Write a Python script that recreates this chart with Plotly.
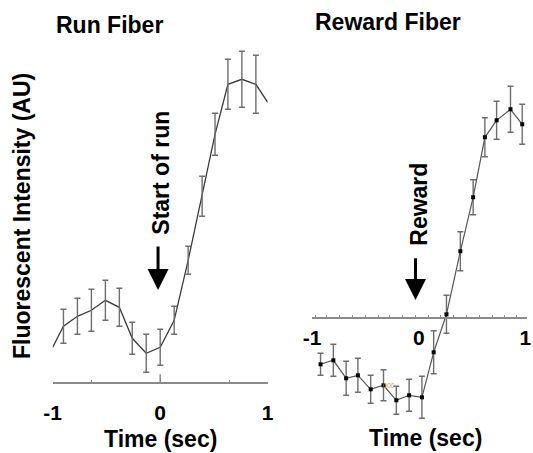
import plotly.graph_objects as go

# ---------------- data ----------------
run_t = [-1.0, -0.90, -0.77, -0.64, -0.51, -0.38, -0.26, -0.13, 0.0, 0.13, 0.26, 0.39, 0.51, 0.63, 0.76, 0.89, 1.0]
run_y = [0.35, 0.56, 0.66, 0.72, 0.82, 0.75, 0.44, 0.29, 0.35, 0.62, 1.22, 1.86, 2.48, 2.98, 3.03, 2.98, 2.80]
run_err = [0.17, 0.18, 0.21, 0.20, 0.19, 0.16, 0.19, 0.18, 0.14, 0.14, 0.20, 0.21, 0.25, 0.28, 0.29]  # inner points

rew_t = [-0.92, -0.80, -0.68, -0.57, -0.45, -0.33, -0.21, -0.09, 0.03, 0.14, 0.26, 0.39, 0.51, 0.62, 0.73, 0.86, 0.97]
rew_y = [-0.46, -0.42, -0.60, -0.57, -0.71, -0.67, -0.82, -0.77, -0.79, -0.34, 0.04, 0.67, 1.21, 1.81, 1.98, 2.09, 1.94]
rew_err = [0.11, 0.16, 0.17, 0.17, 0.14, 0.155, 0.14, 0.16, 0.21, 0.215, 0.19, 0.195, 0.175, 0.195, 0.19, 0.23, 0.20]

tick_vals = [-1, 0, 1]
tick_text = ["-1", "0", "1"]
run_minor_ticks = [-0.64, 0.0, 0.64]
rew_minor_ticks = [-0.97, -0.86, -0.74, -0.62, -0.50, -0.38, -0.27, -0.15, -0.03,
                   0.09, 0.20, 0.33, 0.45, 0.57, 0.69, 0.80, 0.92]

W, H = 533, 453
FONT = "Liberation Sans, Arial, Helvetica, sans-serif"
AXC = "#8a8a8a"
ERRC = "#6e6e6e"


def px(xp):
    return xp / W


def py(yp):
    return 1 - yp / H


fig = go.Figure()

# Run fiber
fig.add_trace(go.Scatter(x=run_t, y=run_y, mode="lines",
                         line=dict(color="#3a3a3a", width=1.3),
                         xaxis="x", yaxis="y", hoverinfo="skip"))
fig.add_trace(go.Scatter(x=run_t[1:-1], y=run_y[1:-1], mode="markers",
                         marker=dict(size=1, color="rgba(0,0,0,0)"),
                         error_y=dict(type="data", array=run_err, visible=True,
                                      color=ERRC, thickness=1.4, width=3),
                         xaxis="x", yaxis="y", hoverinfo="skip"))

# Reward fiber
fig.add_trace(go.Scatter(x=rew_t, y=rew_y, mode="lines+markers",
                         line=dict(color="#555555", width=1.2),
                         marker=dict(symbol="square", size=4, color="black"),
                         error_y=dict(type="data", array=rew_err, visible=True,
                                      color=ERRC, thickness=1.4, width=3),
                         xaxis="x2", yaxis="y2", hoverinfo="skip"))

tickfont = dict(family=FONT, size=21, color="black", weight="bold")

fig.update_layout(
    width=W, height=H,
    margin=dict(l=0, r=0, t=0, b=0, pad=0, autoexpand=False),
    paper_bgcolor="white", plot_bgcolor="white",
    showlegend=False,
    xaxis=dict(domain=[px(52.7), px(267.7)], range=[-1, 1], anchor="y",
               automargin=False,
               showline=True, linecolor=AXC, linewidth=1.5,
               showgrid=False, zeroline=False,
               tickmode="array", tickvals=tick_vals, ticktext=tick_text,
               ticks="", tickfont=tickfont, ticklabelstandoff=11,
               minor=dict(tickmode="array", tickvals=run_minor_ticks,
                          ticks="inside", ticklen=3, tickcolor=AXC, tickwidth=1.3,
                          showgrid=False)),
    yaxis=dict(domain=[py(382.3), py(20)], range=[0, 3.623], anchor="x",
               automargin=False, visible=False),
    xaxis2=dict(domain=[px(312.0), px(526.5)], range=[-1.0, 1.01], anchor="free",
                position=py(318.3), automargin=False,
                showline=True, linecolor=AXC, linewidth=1.5,
                showgrid=False, zeroline=False,
                tickmode="array", tickvals=tick_vals, ticktext=tick_text,
                ticks="", tickfont=tickfont, ticklabelstandoff=1,
                minor=dict(tickmode="array", tickvals=rew_minor_ticks,
                           ticks="inside", ticklen=3, tickcolor=AXC, tickwidth=1.2,
                           showgrid=False)),
    yaxis2=dict(domain=[py(430), py(20)], range=[-1.117, 2.983], anchor="x2",
                automargin=False, visible=False),
)

# taller centre tick on the run axis
fig.add_shape(type="line", xref="x", yref="y", x0=0, x1=0, y0=0, y1=0.08,
              line=dict(color=AXC, width=1.5))

big = dict(family=FONT, size=23, color="black", weight="bold")

ann = [
    dict(text="Run Fiber", xref="paper", yref="paper", x=px(109), y=py(25.5)),
    dict(text="Reward Fiber", xref="paper", yref="paper", x=px(387.5), y=py(22)),
    dict(text="Fluorescent Intensity (AU)", xref="paper", yref="paper",
         x=px(22), y=py(216), textangle=-90),
    dict(text="Time (sec)", xref="paper", yref="paper", x=px(160.8), y=py(438.8)),
    dict(text="Time (sec)", xref="paper", yref="paper", x=px(425), y=py(438)),
    dict(text="Start of run", xref="x", yref="y", x=0, y=2.098, textangle=-90),
    dict(text="Reward", xref="x2", yref="y2", x=0, y=1.143, textangle=-90),
]
for a in ann:
    fig.add_annotation(showarrow=False, font=big, xanchor="center", yanchor="middle", **a)

# arrows
fig.add_annotation(text="", x=-0.02, y=0.923, xref="x", yref="y",
                   ax=-0.02, ay=1.373, axref="x", ayref="y",
                   showarrow=True, arrowhead=2, arrowsize=1.4, arrowwidth=3,
                   arrowcolor="black", standoff=0)
fig.add_annotation(text="", x=-0.03, y=0.183, xref="x2", yref="y2",
                   ax=-0.03, ay=0.616, axref="x2", ayref="y2",
                   showarrow=True, arrowhead=2, arrowsize=1.4, arrowwidth=3,
                   arrowcolor="black", standoff=0)

# small scanning artefact text in the reference
fig.add_annotation(text="000", xref="paper", yref="paper", x=px(397), y=py(391),
                   showarrow=False, font=dict(family=FONT, size=7, color="#c8a060"))

fig.write_html("out.html", config={"displayModeBar": False},
               post_script="document.body.style.margin='0px';document.body.style.overflow='hidden';")
